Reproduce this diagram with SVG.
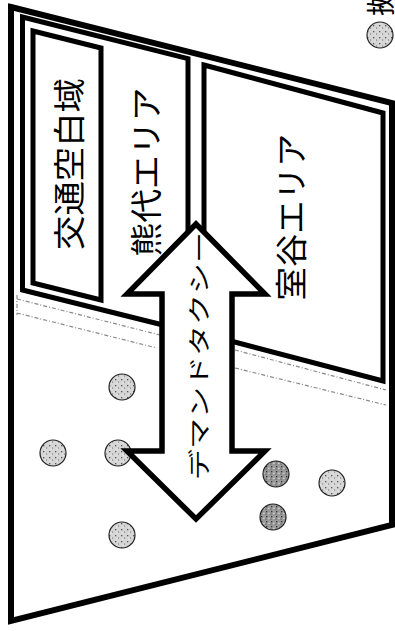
<svg xmlns="http://www.w3.org/2000/svg" width="395" height="631" viewBox="0 0 395 631">
<style>
.frame{fill:none;stroke:#000;stroke-linejoin:miter}
.road{fill:none;stroke:#8a8a8a;stroke-width:1.2;stroke-dasharray:4 2 1 2}
.lbl{font-family:"Noto Sans CJK JP","Noto Sans",sans-serif;fill:#000;text-anchor:middle;dominant-baseline:central}
.dot{stroke:#222;stroke-width:1.2}
</style>
<defs>
<pattern id="speckL" width="6" height="6" patternUnits="userSpaceOnUse">
<rect width="6" height="6" fill="#d6d6d6"/>
<rect x="1" y="1" width="1.3" height="1.3" fill="#555"/>
<rect x="4" y="3.5" width="1.1" height="1.1" fill="#777"/>
<rect x="2.5" y="4.6" width="0.9" height="0.9" fill="#fff"/>
</pattern>
<pattern id="speckD" width="5" height="5" patternUnits="userSpaceOnUse">
<rect width="5" height="5" fill="#9a9a9a"/>
<rect x="1" y="1" width="1.3" height="1.3" fill="#333"/>
<rect x="3.3" y="2.8" width="1.2" height="1.2" fill="#e0e0e0"/>
<rect x="0.5" y="3.6" width="1" height="1" fill="#444"/>
</pattern>
</defs>
<rect width="395" height="631" fill="#fff"/>

<g id="plane">
<path class="frame" stroke-width="6" d="M11,7 L392,103 L392,525 L11,621 Z"/>
</g>

<g id="area-gap">
<path class="frame" stroke-width="5" d="M33,31 L101,48 L101,300 L33,283 Z"/>
<text class="lbl" font-size="32" textLength="172" lengthAdjust="spacingAndGlyphs" transform="translate(67,164) rotate(-90)">交通空白域</text>
</g>

<g id="area-kumashiro">
<path class="frame" stroke-width="5" d="M175,328 L22.5,290 L22.5,17 L188,58.7 L188,240"/>
<text class="lbl" font-size="32" textLength="169" lengthAdjust="spacingAndGlyphs" transform="translate(144,172) rotate(-90)">熊代エリア</text>
</g>

<g id="area-muroya">
<path class="frame" stroke-width="5" d="M204,65 L383,113 L383,381 L204,334 Z"/>
<text class="lbl" font-size="32" textLength="167" lengthAdjust="spacingAndGlyphs" transform="translate(289,217) rotate(-90)">室谷エリア</text>
</g>

<g id="roads">
<path class="road" d="M17,299 L160,335 M17,313 L157,348 M17,295 L17,315"/>
<path class="road" d="M235,350 L386,390 M235,368 L386,405"/>
</g>

<g id="stops">
<circle class="dot" cx="122" cy="387" r="13" fill="url(#speckL)"/>
<circle class="dot" cx="53" cy="453" r="13" fill="url(#speckL)"/>
<circle class="dot" cx="118" cy="453" r="13" fill="url(#speckL)"/>
<circle class="dot" cx="122" cy="535" r="13" fill="url(#speckL)"/>
<circle class="dot" cx="276" cy="474" r="13" fill="url(#speckD)"/>
<circle class="dot" cx="332" cy="483" r="13" fill="url(#speckL)"/>
<circle class="dot" cx="273" cy="517" r="13" fill="url(#speckD)"/>
</g>

<g id="connectors">
<path fill="#fff" stroke="#000" stroke-width="5.5" stroke-linejoin="miter" d="M196,224 L265,294 L232,294 L232,451 L265,451 L196,519 L127,451 L162,451 L162,294 L127,294 Z"/>
<text class="lbl" font-size="22" textLength="248" lengthAdjust="spacingAndGlyphs" transform="translate(197,356) rotate(-90)">デマンドタクシー</text>
</g>

<g id="legend">
<circle class="dot" cx="380" cy="35" r="13" fill="url(#speckL)"/>
<text font-family="&quot;Noto Sans CJK JP&quot;,sans-serif" font-size="29" dominant-baseline="central" transform="translate(379,16) rotate(-90)">拠点</text>
</g>
</svg>
